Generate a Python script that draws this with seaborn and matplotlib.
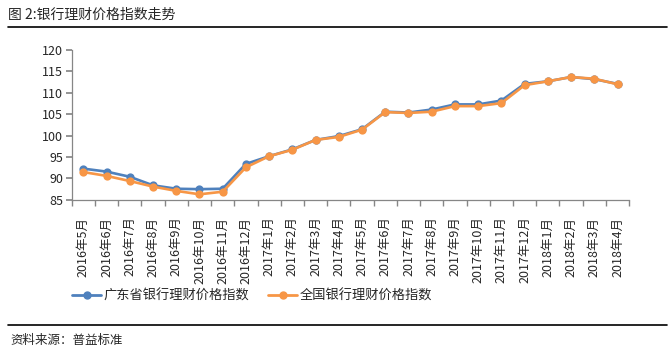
import pandas as pd
import seaborn as sns
import matplotlib.pyplot as plt
from matplotlib.lines import Line2D
from matplotlib.ticker import FixedLocator

months = ["2016年5月", "2016年6月", "2016年7月", "2016年8月", "2016年9月", "2016年10月",
          "2016年11月", "2016年12月", "2017年1月", "2017年2月", "2017年3月", "2017年4月",
          "2017年5月", "2017年6月", "2017年7月", "2017年8月", "2017年9月", "2017年10月",
          "2017年11月", "2017年12月", "2018年1月", "2018年2月", "2018年3月", "2018年4月"]
guangdong = [92.3, 91.6, 90.4, 88.4, 87.6, 87.5, 87.6, 93.4, 95.2, 96.8, 99.0, 99.9,
             101.5, 105.6, 105.4, 106.1, 107.3, 107.3, 108.2, 112.1, 112.7, 113.7, 113.2, 112.1]
national = [91.5, 90.6, 89.4, 88.1, 87.1, 86.3, 86.9, 92.6, 95.2, 96.7, 99.0, 99.7,
            101.4, 105.5, 105.3, 105.6, 106.9, 106.9, 107.6, 111.8, 112.7, 113.7, 113.3, 112.0]
series_names = ["广东省银行理财价格指数", "全国银行理财价格指数"]
colors = ["#4F81BD", "#F79646"]

df = pd.DataFrame({
    "month": months * 2,
    "value": guangdong + national,
    "series": [series_names[0]] * len(months) + [series_names[1]] * len(months),
})

sns.set_theme(style="white")
plt.rcParams['font.family'] = ['Noto Sans CJK SC', 'DejaVu Sans']

fig = plt.figure(figsize=(6.7, 3.55), dpi=100)
ax = fig.add_axes([0.107, 0.437, 0.832, 0.422])

sns.pointplot(data=df, x="month", y="value", hue="series", order=months,
              hue_order=series_names, palette=colors, markers="o", linestyles="-",
              markersize=4.5, linewidth=1.9, ax=ax, legend=False)

ax.set_ylim(85, 120)
ax.set_yticks(range(85, 121, 5))
ax.set_xlim(-0.5, len(months) - 0.5)
ax.set_xlabel("")
ax.set_ylabel("")
for s in ["top", "right"]:
    ax.spines[s].set_visible(False)
for s in ["left", "bottom"]:
    ax.spines[s].set_color("#868686")
    ax.spines[s].set_linewidth(0.9)

ax.tick_params(axis="y", left=True, length=4, color="#868686", labelsize=9, pad=2)
ax.tick_params(axis="x", bottom=False, labelsize=9, pad=6, labelrotation=90)
ax.xaxis.set_minor_locator(FixedLocator([i - 0.5 for i in range(len(months) + 1)]))
ax.tick_params(axis="x", which="minor", bottom=True, length=4, color="#868686")
for lbl in ax.get_xticklabels():
    lbl.set_va("top")

handles = [Line2D([0], [0], color=c, lw=2, marker="o", markersize=5) for c in colors]
fig.legend(handles, series_names, loc="center left", bbox_to_anchor=(0.09, 0.165),
           ncol=2, frameon=False, fontsize=9.5, handlelength=2.2, handletextpad=0.2,
           columnspacing=1.4)

fig.text(0.012, 0.958, "图 2:银行理财价格指数走势", fontsize=10, va="center", ha="left")
fig.add_artist(Line2D([0.012, 0.995], [0.924, 0.924], color="black", lw=1.2))
fig.add_artist(Line2D([0.012, 0.995], [0.085, 0.085], color="black", lw=1.2))
fig.text(0.015, 0.042, "资料来源：普益标准", fontsize=9, va="center", ha="left")

fig.savefig("out.png", dpi=100)
